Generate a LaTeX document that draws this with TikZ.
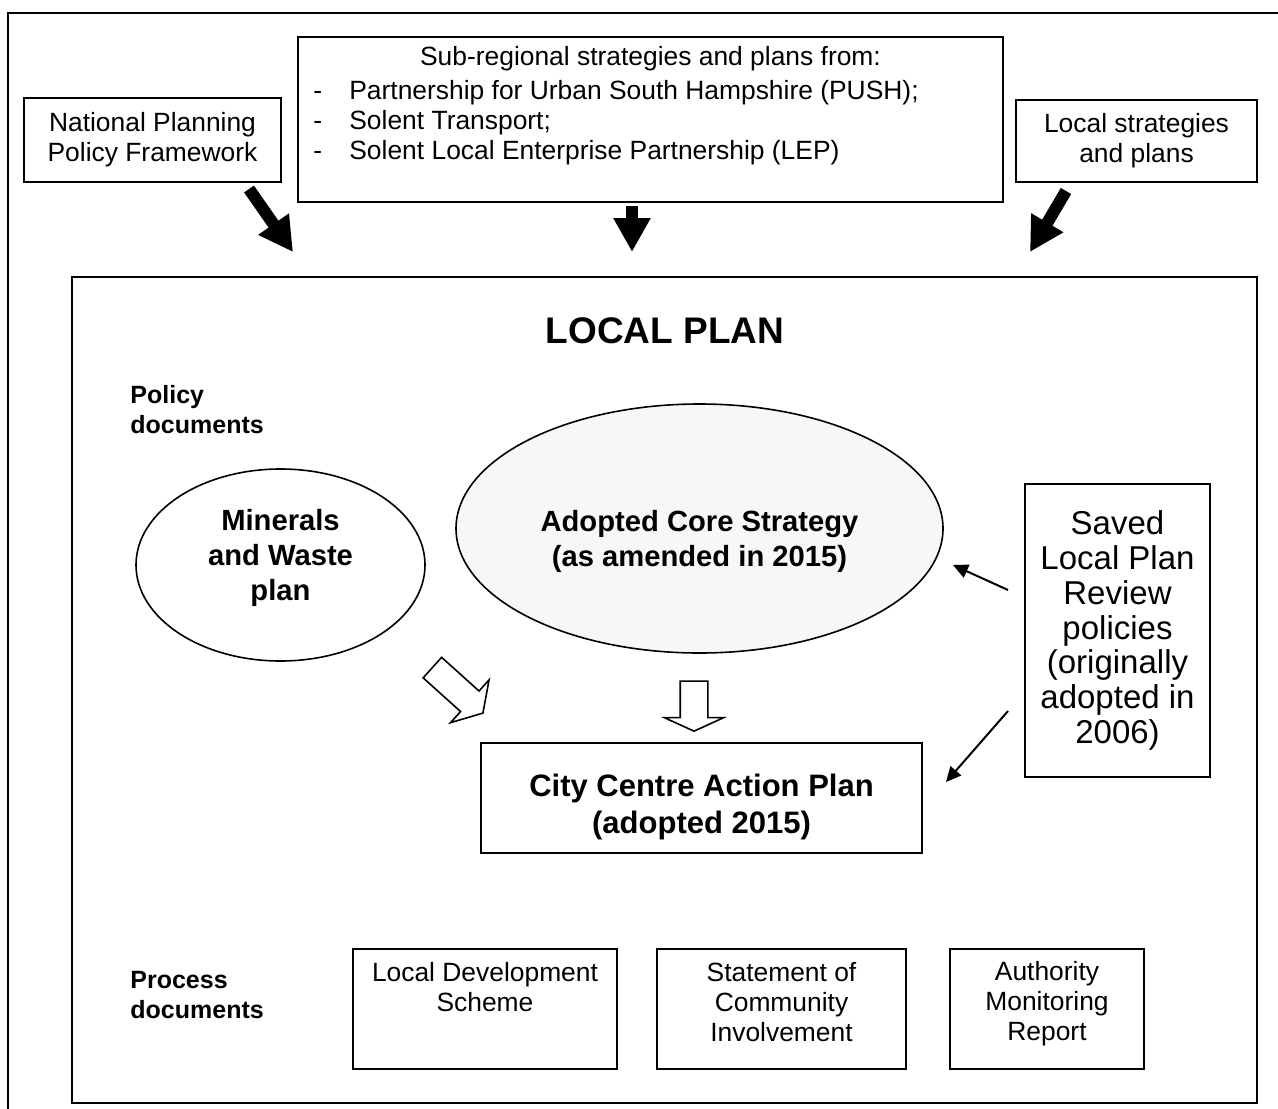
\documentclass[tikz,border=0pt]{standalone}
\usepackage{fontspec}
\setmainfont{Liberation Sans}
\usetikzlibrary{arrows.meta,shapes.geometric,shapes.arrows}
\newcommand{\listdash}{\makebox[18pt][l]{-}}
\tikzset{
	box/.style={draw, line width=1pt, inner sep=0pt, align=center},
	smalltext/.style={font=\fontsize{13.2}{15}\selectfont, align=center},
	bigtext/.style={font=\fontsize{16.5}{17.4}\selectfont, align=center},
	boldtext/.style={font=\bfseries\fontsize{14.6}{17.5}\selectfont, align=center},
	headtext/.style={font=\bfseries\fontsize{12.5}{15}\selectfont, align=left, inner sep=0pt},
	heavyarrow/.style={line width=6pt, -{Triangle[length=17pt,width=17.5pt]}},
	thinarrow/.style={line width=1pt, -{Triangle[length=7.5pt,width=7pt]}},
	hollowarrow/.style={draw, line width=0.8pt, single arrow, inner xsep=0pt, inner ysep=6.5pt, fill=white}
}

\begin{document}
\begin{tikzpicture}[x=0.5pt,y=-0.5pt]
        \useasboundingbox (0,0) rectangle (1278,1108);
        \clip (0,0) rectangle (1278,1108);
        \draw[line width=1pt] (8,13) rectangle (1300,1130);

        \node[box, smalltext, minimum width=128.5pt, minimum height=42pt] (nppf) at (152.5,140) {National Planning\\Policy Framework};
        \node[box, minimum width=352.5pt, minimum height=82.5pt] (sub) at (650.5,119.5) {};
        \node[smalltext] (subtitle) at (650.5,59) {Sub-regional strategies and plans from:};
        \node[smalltext, align=left, anchor=west, inner sep=0pt] (sublist) at (313,123) {\listdash Partnership for Urban South Hampshire (PUSH);\\\listdash Solent Transport;\\\listdash Solent Local Enterprise Partnership (LEP)};
        \node[box, smalltext, minimum width=120.5pt, minimum height=41pt] (local) at (1136.5,141) {Local strategies\\and plans};

        \node[box, minimum width=592.5pt, minimum height=413pt] (plan) at (664.5,690) {};
        \node[font=\bfseries\fontsize{18.5}{22}\selectfont] (title) at (665,331) {LOCAL PLAN};

        \coordinate (nppf-in) at (293,252);
        \coordinate (sub-in) at (632,252);
        \coordinate (local-in) at (1030,252);
        \draw[heavyarrow] ([shift={(-33,6)}]nppf.south east) -- (nppf-in);
        \draw[heavyarrow] ([shift={(-18.5,3)}]sub.south) -- (sub-in);
        \draw[heavyarrow] ([shift={(51,8)}]local.south west) -- (local-in);

        \node[headtext, anchor=west] (policy) at (130,410) {Policy\\documents};
        \node[headtext, anchor=west] (process) at (130,995) {Process\\documents};

        \node[ellipse, draw, line width=0.8pt, inner sep=0pt, minimum width=144.5pt, minimum height=96pt] (mw) at (280.5,565) {};
        \node[boldtext] (mw-text) at (280.5,558) {Minerals\\and Waste\\plan};
        \node[ellipse, draw, line width=0.8pt, inner sep=0pt, fill=gray!6, minimum width=243.5pt, minimum height=124.5pt] (core) at (699.5,528.5) {};
        \node[boldtext] (core-text) at (699.5,541.5) {Adopted Core Strategy\\(as amended in 2015)};

        \node[box, bigtext, minimum width=92.5pt, minimum height=146.5pt] (saved) at (1117.5,630.5) {Saved\\Local Plan\\Review\\policies\\(originally\\adopted in\\2006)};
        \node[box, minimum width=220.5pt, minimum height=55pt] (cca) at (701.5,798) {};
        \node[font=\bfseries\fontsize{15.5}{18.5}\selectfont, align=center] (cca-text) at (701.5,807) {City Centre Action Plan\\(adopted 2015)};

        \node[hollowarrow, minimum height=34pt, single arrow head extend=7.5pt, single arrow tip angle=117, rotate=-42] (mw-arrow) at (454.5,687.5) {};
        \node[hollowarrow, minimum height=25pt, single arrow head extend=8pt, single arrow tip angle=131, rotate=-90] (core-arrow) at (694,703) {};

        \coordinate (core-in) at (953,565);
        \coordinate (cca-in) at (946,782);
        \draw[thinarrow] ([shift={(-16,-40.5)}]saved.west) -- (core-in);
        \draw[thinarrow] ([shift={(-16,80.5)}]saved.west) -- (cca-in);

        \node[box, minimum width=132pt, minimum height=60pt] (lds) at (485,1009) {};
        \node[smalltext] (lds-text) at (485,987) {Local Development\\Scheme};
        \node[box, minimum width=124.5pt, minimum height=60pt] (sci) at (781.5,1009) {};
        \node[smalltext] (sci-text) at (781.5,1002.5) {Statement of\\Community\\Involvement};
        \node[box, minimum width=97pt, minimum height=60pt] (amr) at (1047,1009) {};
        \node[smalltext] (amr-text) at (1047,1004) {Authority\\Monitoring\\Report};
    \end{tikzpicture}
\end{document}
